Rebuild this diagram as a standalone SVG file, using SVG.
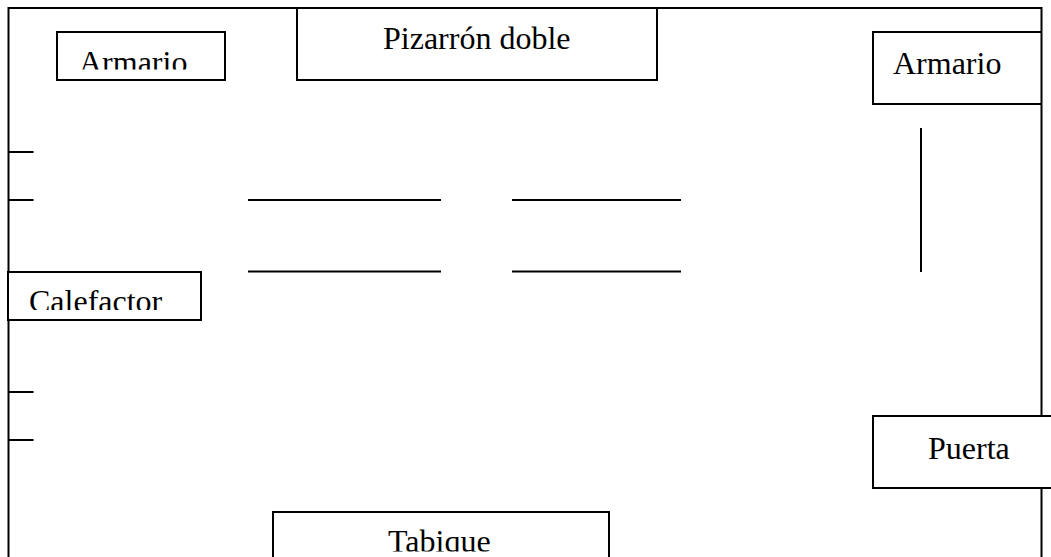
<svg xmlns="http://www.w3.org/2000/svg" width="1051" height="557" viewBox="0 0 1051 557">
<style>
.s{fill:#fff;stroke:#000;stroke-width:2}
.o{fill:none;stroke:#000;stroke-width:2}
.l{stroke:#000;stroke-width:2;fill:none}
text{font-family:"Liberation Serif","Times New Roman",serif;font-size:32px;fill:#000}
</style>
<defs>
<clipPath id="c1"><rect x="57" y="33" width="168" height="36.5"/></clipPath>
<clipPath id="c2"><rect x="9" y="273" width="192" height="37"/></clipPath>
<clipPath id="c3"><rect x="273" y="513" width="336" height="38.6"/></clipPath>
</defs>
<rect width="1051" height="557" fill="#fff"/>
<g id="room"><path class="o" d="M8.500 557V8H1041.500V557"/></g>
<g id="connectors">
<path class="l" d="M8 152H33.500M8 200H33.500M8 392H33.500M8 440H33.500M248 200H441M512 200H681M248 271.500H441M512 271.500H681M921 128V272"/>
</g>
<g id="armario-izq"><rect class="s" x="57" y="32" width="168" height="48"/><text x="79" y="73" clip-path="url(#c1)">Armario</text></g>
<g id="pizarron"><rect class="s" x="297" y="8" width="360" height="72"/><text x="383" y="48.500">Pizarrón doble</text></g>
<g id="armario-der"><path class="o" d="M1042 32H873V104H1042"/><text x="893" y="74">Armario</text></g>
<g id="calefactor"><path class="s" d="M8 272H201V320H8Z"/><text x="29" y="312" clip-path="url(#c2)">Calefactor</text></g>
<g id="puerta"><path class="s" d="M1051 416H873V488H1051"/><text x="928" y="458.500">Puerta</text></g>
<g id="tabique"><path class="s" d="M273 557V512H609V557"/><text x="388" y="552" clip-path="url(#c3)">Tabique</text></g>
</svg>
